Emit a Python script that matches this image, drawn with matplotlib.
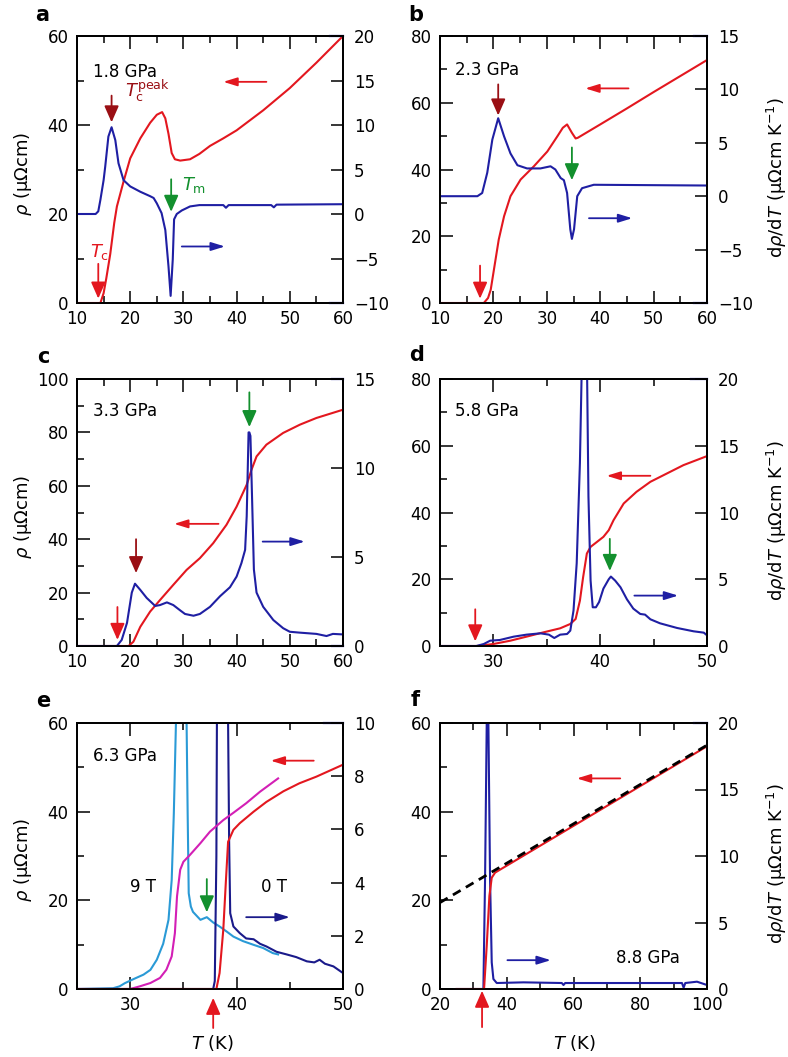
import matplotlib
matplotlib.use("Agg")
import matplotlib.pyplot as plt
from matplotlib.ticker import MultipleLocator

plt.rcParams['font.family'] = ['DejaVu Sans']
plt.rcParams['mathtext.fontset'] = 'dejavusans'
plt.rcParams['axes.unicode_minus'] = True

# ---------------- data ----------------
# panel a (1.8 GPa)
a_T_rho = [10, 14.4, 15, 15.5, 16.25, 17, 17.5, 18.75, 20, 21.9, 23.75, 25, 26, 26.6, 27.2, 27.8, 28.4, 29.4, 31.25, 33, 35, 37.5, 40, 45, 50, 55, 60]
a_rho = [0, 0, 2.2, 5.5, 11, 18, 21.7, 27.3, 32.5, 37, 40.5, 42.3, 42.9, 41.5, 38, 33.7, 32.3, 32, 32.3, 33.5, 35.3, 37, 38.8, 43.3, 48.3, 54, 60]
a_T_d = [10, 13.5, 14, 14.4, 15, 15.3, 15.9, 16.5, 17.2, 17.8, 18.75, 20, 21.9, 23.75, 24.4, 25, 25.9, 26.6, 27.2, 27.6, 28, 28.25, 28.75, 29.7, 31.25, 33, 37.5, 38, 38.5, 46.5, 47, 47.5, 60]
a_d = [0, 0, 0.3, 1.6, 3.8, 5.3, 8.7, 9.75, 8.3, 5.7, 3.8, 3.1, 2.5, 2.0, 1.8, 1.2, 0.1, -1.8, -5.9, -9.2, -5.1, -0.6, 0, 0.4, 0.85, 1.0, 1.0, 0.7, 1.0, 1.0, 0.75, 1.05, 1.1]

# panel b (2.3 GPa)
b_T_rho = [10, 18.2, 19, 19.5, 20.1, 21, 22, 23.2, 25.1, 27.6, 30.1, 32, 33, 33.8, 34.7, 35.4, 35.8, 40, 45, 50, 55, 60]
b_rho = [0, 0, 1.5, 4, 10, 19, 26, 32, 37, 41, 45.4, 50, 52.5, 53.5, 51, 49.3, 49.5, 53.5, 58.3, 63.2, 68, 72.8]
b_T_d = [10, 17, 17.9, 18.85, 19.8, 20.9, 22, 23.2, 24.5, 26.3, 28.8, 30.7, 31.6, 32.6, 33.2, 33.8, 34.4, 34.7, 35.1, 35.7, 36.6, 38.8, 60]
b_d = [0, 0, 0.3, 2.2, 5.3, 7.3, 5.6, 4.0, 2.9, 2.6, 2.6, 2.8, 2.5, 1.7, 1.5, 0.3, -3.1, -4.0, -3.1, 0, 0.75, 1.07, 1.0]

# panel c (3.3 GPa)
c_T_rho = [10, 19.7, 20.6, 21.9, 23.75, 25.6, 28.1, 30.6, 33.1, 35.6, 38.1, 40, 41.9, 42.8, 43.75, 45.6, 48.75, 51.9, 55, 60]
c_rho = [0, 0, 1.6, 7.2, 12.9, 17.2, 22.9, 28.5, 32.9, 38.5, 45.4, 52.2, 60.4, 66, 71, 75.4, 79.8, 82.9, 85.4, 88.5]
c_T_d = [10, 17.5, 18.4, 19.4, 20.3, 20.9, 21.9, 23.1, 24.7, 25.6, 26.9, 28.1, 29.4, 30.3, 31.9, 33.1, 35, 36.9, 38.75, 40, 40.9, 41.6, 41.9, 42.25, 42.4, 42.6, 42.9, 43.25, 43.75, 45, 46.9, 48.75, 50, 51.9, 55, 56.9, 58.1, 60]
c_d = [0, 0, 0.34, 1.3, 3.0, 3.5, 3.15, 2.7, 2.25, 2.3, 2.45, 2.3, 2.0, 1.8, 1.7, 1.8, 2.2, 2.8, 3.3, 3.9, 4.65, 5.4, 7.3, 12.0, 12.0, 11.8, 8.4, 4.3, 3.0, 2.2, 1.46, 1.0, 0.8, 0.75, 0.68, 0.56, 0.68, 0.65]

# panel d (5.8 GPa)
d_T_rho = [25, 28.5, 30, 31.6, 33.1, 34.7, 36.25, 37.2, 37.7, 38.1, 38.4, 38.75, 39.1, 39.7, 40.3, 40.8, 41.25, 42.2, 43.4, 44.7, 46.25, 47.8, 50]
d_rho = [0, 0, 0.6, 1.6, 2.8, 4.1, 5.3, 6.6, 8.1, 13.6, 20.6, 27.7, 29.7, 31.2, 32.7, 34.7, 37.7, 42.7, 46.2, 49.2, 51.7, 54.2, 56.9]
d_T_d = [25, 28.4, 29.1, 29.7, 30.6, 31.9, 33.1, 34.4, 35.2, 35.7, 36.25, 36.9, 37.2, 37.5, 37.8, 38.1, 38.3, 38.5, 38.75, 38.9, 39.1, 39.3, 39.6, 39.9, 40.3, 40.8, 41.0, 41.4, 41.9, 42.5, 43.1, 43.75, 44.2, 44.7, 45.6, 47.2, 48.75, 49.7, 50]
d_d = [0, 0, 0.15, 0.4, 0.45, 0.7, 0.85, 0.95, 0.85, 0.6, 0.85, 0.9, 1.15, 2.65, 6.2, 13.7, 22, 26, 22, 11.2, 4.9, 2.9, 2.9, 3.3, 4.3, 5.0, 5.2, 4.9, 4.4, 3.5, 2.8, 2.4, 2.35, 2.0, 1.7, 1.35, 1.1, 1.0, 0.8]

# panel e (6.3 GPa): 0 T and 9 T
e_T_rho0 = [25, 38.1, 38.4, 38.75, 39.0, 39.2, 39.7, 40.3, 41.6, 42.8, 44.4, 45.9, 47.5, 50]
e_rho0 = [0, 0, 3.6, 13.4, 24.6, 33.2, 35.9, 37.4, 40, 42.2, 44.6, 46.4, 47.9, 50.6]
e_T_rho9 = [25, 30, 30.9, 31.9, 32.8, 33.4, 33.9, 34.2, 34.4, 34.7, 35, 35.6, 36.6, 37.5, 38.75, 39.7, 40.9, 42.2, 43.9]
e_rho9 = [0, 0, 0.6, 1.35, 2.5, 4.35, 7.35, 12.6, 20.9, 26.9, 28.7, 30.2, 32.9, 35.5, 38.1, 39.75, 41.9, 44.5, 47.5]
e_T_d9 = [25, 28.4, 29, 29.5, 30.3, 31.25, 31.9, 32.5, 33.1, 33.6, 33.9, 34.1, 34.3, 34.8, 35.3, 35.4, 35.5, 35.7, 35.9, 36.6, 37.2, 37.8, 38.4, 39.1, 39.7, 40.6, 41.6, 42.5, 43.4, 43.9]
e_d9 = [0, 0.03, 0.1, 0.22, 0.37, 0.54, 0.72, 1.1, 1.7, 2.6, 4.1, 6.6, 10, 15, 10, 6.6, 3.6, 3.1, 2.9, 2.6, 2.7, 2.5, 2.35, 2.15, 1.97, 1.8, 1.66, 1.54, 1.35, 1.3]
e_T_d0 = [25, 37.8, 37.95, 38.1, 38.15, 38.6, 39.2, 39.3, 39.4, 39.7, 40.3, 40.9, 41.6, 42.2, 42.8, 43.75, 44.7, 45.6, 46.6, 47.3, 47.8, 48.3, 49.1, 50]
e_d0 = [0, 0, 0.3, 5, 10, 18, 10, 5.5, 2.85, 2.35, 2.1, 1.9, 1.87, 1.7, 1.6, 1.4, 1.3, 1.2, 1.04, 1.0, 1.1, 0.95, 0.85, 0.6]

# panel f (8.8 GPa)
f_T_rho = [25, 33.2, 34, 34.8, 35.5, 36.5, 100]
f_rho = [0, 0, 9.75, 21, 25.1, 26.25, 54.75]
f_T_fit = [20, 100]
f_rho_fit = [19.5, 55.0]
f_T_d = [25, 33, 33.5, 34, 34.25, 34.5, 35, 35.5, 36, 37, 45, 56.5, 57, 57.5, 75, 92.5, 93, 93.5, 97, 100]
f_d = [0, 0, 8.25, 20, 25, 20, 8.25, 2, 0.75, 0.45, 0.5, 0.45, 0.3, 0.45, 0.45, 0.45, 0.1, 0.45, 0.55, 0.3]

# ---------------- styles ----------------
RED = '#e3171f'
BLUE = '#1f1fa3'
DARKRED = '#9a0f14'
GREEN = '#13902e'
LBLUE = '#2a9ad6'
MAGENTA = '#d31fb5'
NAVY = '#1a1a8a'
FS = 12
LFS = 13

W, H = 788, 1057
fig = plt.figure(figsize=(W / 100, H / 100), dpi=100)


def make_axes(l, t, r, b):
    return fig.add_axes([l / W, 1 - b / H, (r - l) / W, (b - t) / H])


def setup(ax, xlim, xmaj, xmin, ylim, ymaj, ymin, y2lim, y2maj):
    ax.set_xlim(*xlim)
    ax.set_ylim(*ylim)
    ax.xaxis.set_major_locator(MultipleLocator(xmaj))
    ax.xaxis.set_minor_locator(MultipleLocator(xmin))
    ax.yaxis.set_major_locator(MultipleLocator(ymaj))
    ax.yaxis.set_minor_locator(MultipleLocator(ymin))
    ax.tick_params(which='both', direction='in', top=True, right=False,
                   labelsize=FS, width=1.1)
    ax.tick_params(which='major', length=9)
    ax.tick_params(which='minor', length=5)
    ax.tick_params(axis='x', pad=5)
    ax.tick_params(axis='y', pad=6)
    for s in ax.spines.values():
        s.set_linewidth(1.3)
    ax2 = ax.twinx()
    ax2.set_ylim(*y2lim)
    ax2.yaxis.set_major_locator(MultipleLocator(y2maj))
    ax2.tick_params(which='major', direction='in', length=9, width=1.1,
                    labelsize=FS, pad=8)
    for s in ax2.spines.values():
        s.set_linewidth(1.3)
    return ax2


def varrow(ax, x, y0, y1, color, clip=True):
    ax.annotate('', xy=(x, y1), xytext=(x, y0),
                arrowprops=dict(arrowstyle='-|>,head_length=0.5,head_width=0.22',
                                color=color, lw=1.3, mutation_scale=20,
                                shrinkA=0, shrinkB=0),
                annotation_clip=clip)


def harrow(ax, x0, x1, y, color):
    ax.annotate('', xy=(x1, y), xytext=(x0, y),
                arrowprops=dict(arrowstyle='-|>,head_length=0.55,head_width=0.17',
                                color=color, lw=1.3, mutation_scale=15,
                                shrinkA=0, shrinkB=0))


def corner(ax, frac_from, bottom=False):
    ax.plot([frac_from, 1.0], [1.0, 1.0], color=BLUE, lw=1.6,
            transform=ax.transAxes, clip_on=False, zorder=5)
    if bottom:
        ax.plot([frac_from, 1.0], [0.0, 0.0], color=BLUE, lw=1.6,
                transform=ax.transAxes, clip_on=False, zorder=5)


LX, LR = 77, 343
RX, RR = 440, 707
rows = [(36, 303), (379, 646), (723, 989)]

# ---------- panel a ----------
ax = make_axes(LX, rows[0][0], LR, rows[0][1])
ax2 = setup(ax, (10, 60), 10, 5, (0, 60), 20, 10, (-10, 20), 5)
ax.plot(a_T_rho, a_rho, color=RED, lw=1.5, zorder=3)
ax2.plot(a_T_d, a_d, color=BLUE, lw=1.5)
ax.text(13.1, 52, '1.8 GPa', fontsize=FS, va='center')
varrow(ax, 16.5, 46.6, 40.6, DARKRED)
ax.text(19.0, 47.6, r'$T_\mathrm{c}^\mathrm{peak}$', color=DARKRED, fontsize=13, va='center')
varrow(ax, 27.7, 27.8, 20.5, GREEN)
ax.text(29.7, 26.6, r'$T_\mathrm{m}$', color=GREEN, fontsize=13, va='center')
varrow(ax, 14.0, 8.8, 1.0, RED)
ax.text(12.4, 11.4, r'$T_\mathrm{c}$', color=RED, fontsize=13, va='center')
harrow(ax, 45.6, 37.5, 49.7, RED)
harrow(ax, 29.7, 37.8, 12.7, BLUE)
corner(ax, 0.95, bottom=True)

# ---------- panel b ----------
ax = make_axes(RX, rows[0][0], RR, rows[0][1])
ax2 = setup(ax, (10, 60), 10, 5, (0, 80), 20, 10, (-10, 15), 5)
ax.plot(b_T_rho, b_rho, color=RED, lw=1.5, zorder=3)
ax2.plot(b_T_d, b_d, color=BLUE, lw=1.5)
ax.text(12.9, 69.8, '2.3 GPa', fontsize=FS, va='center')
varrow(ax, 20.9, 65.5, 56.2, DARKRED)
varrow(ax, 34.7, 46.6, 36.8, GREEN)
varrow(ax, 17.5, 11.2, 1.3, RED)
harrow(ax, 45.3, 37.2, 64.3, RED)
harrow(ax, 37.9, 46.0, 25.4, BLUE)
corner(ax, 0.95, bottom=True)

# ---------- panel c ----------
ax = make_axes(LX, rows[1][0], LR, rows[1][1])
ax2 = setup(ax, (10, 60), 10, 5, (0, 100), 20, 10, (0, 15), 5)
ax.plot(c_T_rho, c_rho, color=RED, lw=1.5, zorder=3)
ax2.plot(c_T_d, c_d, color=BLUE, lw=1.5)
ax.text(13.1, 88.1, '3.3 GPa', fontsize=FS, va='center')
varrow(ax, 21.1, 40.0, 27.3, DARKRED)
varrow(ax, 42.4, 95.0, 82.0, GREEN)
varrow(ax, 17.6, 14.6, 2.3, RED)
harrow(ax, 36.6, 28.25, 45.75, RED)
harrow(ax, 44.9, 52.8, 39.1, BLUE)
corner(ax, 0.96, bottom=True)

# ---------- panel d ----------
ax = make_axes(RX, rows[1][0], RR, rows[1][1])
ax2 = setup(ax, (25, 50), 10, 5, (0, 80), 20, 10, (0, 20), 5)
ax.plot(d_T_rho, d_rho, color=RED, lw=1.5, zorder=3)
ax2.plot(d_T_d, d_d, color=BLUE, lw=1.5)
ax.text(26.4, 70.3, '5.8 GPa', fontsize=FS, va='center')
varrow(ax, 28.3, 11.0, 1.4, RED)
varrow(ax, 40.9, 32.1, 22.5, GREEN)
harrow(ax, 44.7, 40.6, 51.0, RED)
harrow(ax, 43.2, 47.3, 15.1, BLUE)
corner(ax, 0.94)

# ---------- panel e ----------
ax = make_axes(LX, rows[2][0], LR, rows[2][1])
ax2 = setup(ax, (25, 50), 10, 5, (0, 60), 20, 10, (0, 10), 2)
ax2.plot(e_T_d9, e_d9, color=LBLUE, lw=1.5)
ax2.plot(e_T_d0, e_d0, color=NAVY, lw=1.5)
ax2.plot(e_T_rho9, [v / 6 for v in e_rho9], color=MAGENTA, lw=1.5)
ax2.plot(e_T_rho0, [v / 6 for v in e_rho0], color=RED, lw=1.5)
ax.text(26.5, 52.5, '6.3 GPa', fontsize=FS, va='center')
ax.text(30.0, 23.1, '9 T', fontsize=FS, va='center')
ax.text(42.3, 23.1, '0 T', fontsize=FS, va='center')
varrow(ax, 37.2, 24.8, 17.3, GREEN)
harrow(ax, 47.25, 43.2, 51.5, RED)
harrow(ax, 40.9, 45.0, 16.2, NAVY)
varrow(ax, 37.8, -8.8, -2.0, RED, clip=False)
corner(ax, 0.93)

# ---------- panel f ----------
ax = make_axes(RX, rows[2][0], RR, rows[2][1])
ax2 = setup(ax, (20, 100), 20, 10, (0, 60), 20, 10, (0, 20), 5)
ax2.plot(f_T_d, f_d, color=BLUE, lw=1.5)
ax2.plot(f_T_rho, [v / 3 for v in f_rho], color=RED, lw=1.5)
ax2.plot(f_T_fit, [v / 3 for v in f_rho_fit], color='black', lw=2.0,
         ls=(0, (3.2, 2.2)))
ax.text(72.8, 6.9, '8.8 GPa', fontsize=FS, va='center')
harrow(ax, 74, 61, 47.5, RED)
harrow(ax, 40.2, 53.2, 6.5, BLUE)
varrow(ax, 32.6, -8.6, -0.4, RED, clip=False)
corner(ax, 0.95)

# ---------- labels ----------
ylab_left = r'$\rho$ (μΩcm)'
ylab_right = r'd$\rho$/d$T$ (μΩcm K$^{-1}$)'
for t, b in rows:
    yc_l = 1 - ((t + b) / 2 + 4) / H
    yc_r = 1 - ((t + b) / 2 + 8) / H
    fig.text(23 / W, yc_l, ylab_left, rotation=90, ha='center', va='center', fontsize=LFS)
    fig.text(777 / W, yc_r, ylab_right, rotation=90, ha='center', va='center', fontsize=LFS)

letters = [('a', 42, 15), ('b', 416, 15), ('c', 43, 357), ('d', 417, 355),
           ('e', 43, 701), ('f', 415, 700)]
for s, x, y in letters:
    fig.text(x / W, 1 - y / H, s, fontsize=15, fontweight='bold', ha='center', va='center')

fig.text(212 / W, 1 - 1043 / H, r'$T$ (K)', fontsize=LFS, ha='center', va='center')
fig.text(574 / W, 1 - 1043 / H, r'$T$ (K)', fontsize=LFS, ha='center', va='center')

fig.savefig('out.png', dpi=100)
